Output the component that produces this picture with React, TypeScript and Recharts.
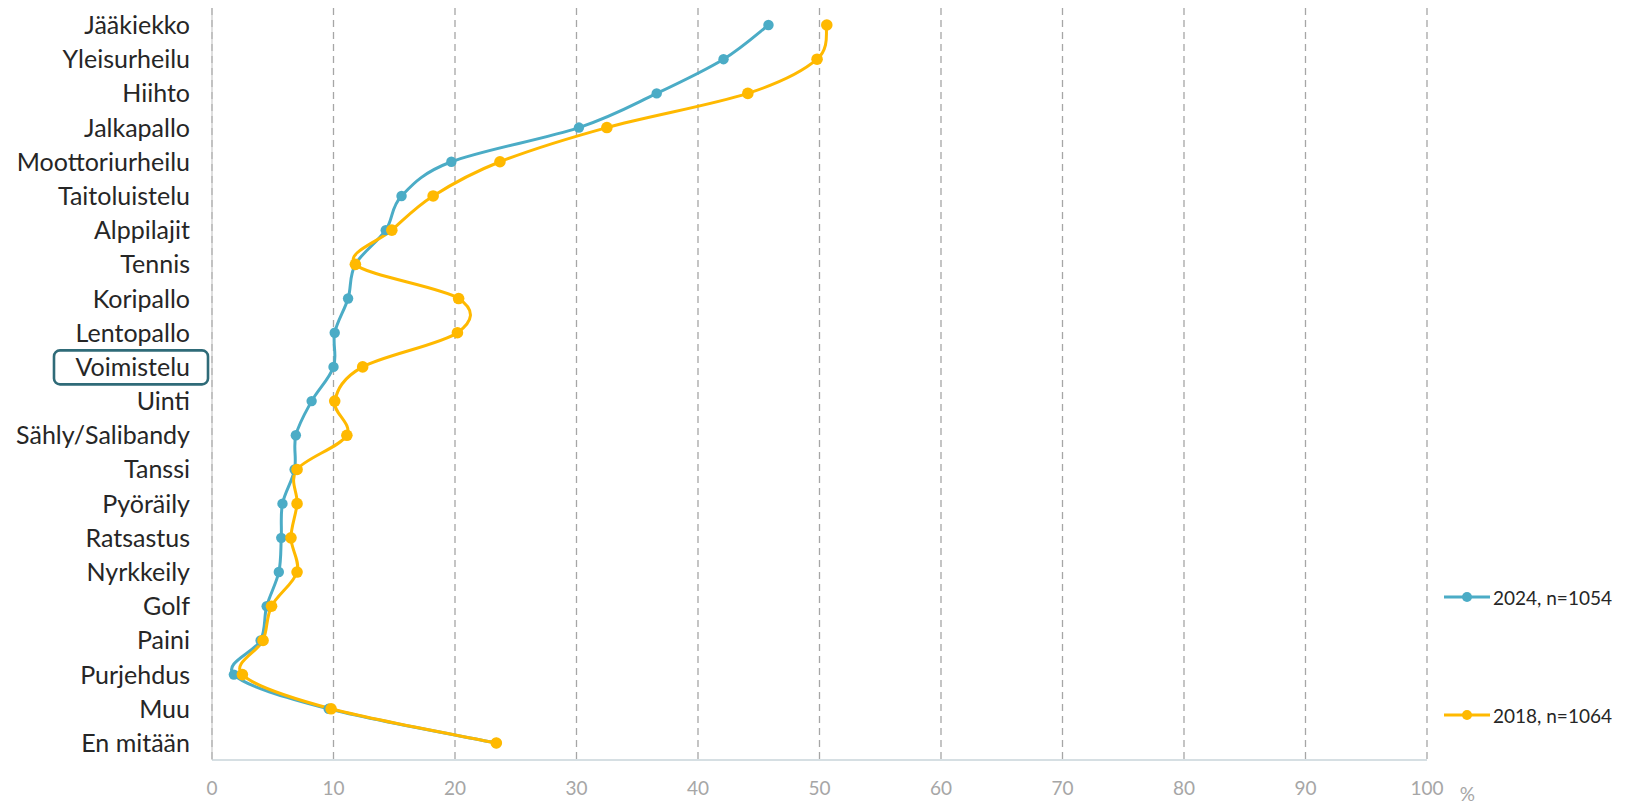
import { LineChart, Line, XAxis, YAxis, CartesianGrid, Legend } from "recharts"

const categories = [
  "Jääkiekko",
  "Yleisurheilu",
  "Hiihto",
  "Jalkapallo",
  "Moottoriurheilu",
  "Taitoluistelu",
  "Alppilajit",
  "Tennis",
  "Koripallo",
  "Lentopallo",
  "Voimistelu",
  "Uinti",
  "Sähly/Salibandy",
  "Tanssi",
  "Pyöräily",
  "Ratsastus",
  "Nyrkkeily",
  "Golf",
  "Paini",
  "Purjehdus",
  "Muu",
  "En mitään",
]

const values2024 = [
  45.8, 42.1, 36.6, 30.2, 19.7, 15.6, 14.3, 11.8, 11.2, 10.1, 10.0, 8.2, 6.9, 6.8, 5.8, 5.7, 5.5, 4.5, 4.0,
  1.8, 9.6, 23.4,
]

const values2018 = [
  50.6, 49.8, 44.1, 32.5, 23.7, 18.2, 14.8, 11.8, 20.3, 20.2, 12.4, 10.1, 11.1, 7.0, 7.0, 6.5, 7.0, 4.9, 4.2,
  2.5, 9.8, 23.4,
]

const xTicks = [0, 10, 20, 30, 40, 50, 60, 70, 80, 90, 100]

const seriesInfo = [
  { key: "y2024", label: "2024, n=1054", color: "#4BACC6" },
  { key: "y2018", label: "2018, n=1064", color: "#FFB900" },
]

const highlighted = "Voimistelu"

const data = categories.map((name, i) => ({
  name,
  y2024: values2024[i],
  y2018: values2018[i],
}))

const FONT = "Lato, 'Open Sans', sans-serif"

// Excel-style smoothed line (Catmull-Rom through the points)
const smoothCurve = (context: any) => {
  let pts: number[][] = []
  return {
    areaStart() {},
    areaEnd() {},
    lineStart() {
      pts = []
    },
    lineEnd() {
      if (!pts.length) return
      context.moveTo(pts[0][0], pts[0][1])
      for (let i = 0; i < pts.length - 1; i++) {
        const p0 = pts[i - 1] || pts[i]
        const p1 = pts[i]
        const p2 = pts[i + 1]
        const p3 = pts[i + 2] || p2
        context.bezierCurveTo(
          p1[0] + (p2[0] - p0[0]) / 6,
          p1[1] + (p2[1] - p0[1]) / 6,
          p2[0] - (p3[0] - p1[0]) / 6,
          p2[1] - (p3[1] - p1[1]) / 6,
          p2[0],
          p2[1]
        )
      }
    },
    point(x: number, y: number) {
      pts.push([+x, +y])
    },
  }
}

const CategoryTick = (props: any) => {
  const { x, y, payload } = props
  const isHi = payload.value === highlighted
  return (
    <g>
      {isHi && (
        <rect
          x={x - 136}
          y={y - 16.5}
          width={154}
          height={34}
          rx={6}
          ry={6}
          fill="none"
          stroke="#2F6B78"
          strokeWidth={2.6}
        />
      )}
      <text
        x={x}
        y={y}
        dy="0.36em"
        textAnchor="end"
        fill="#262626"
        fontSize={25}
        fontFamily={FONT}
      >
        {payload.value}
      </text>
    </g>
  )
}

const renderLegend = () => (
  <div style={{ fontFamily: FONT, fontSize: 19, color: "#262626" }}>
    {seriesInfo.map((s, i) => (
      <div
        key={s.key}
        style={{
          display: "flex",
          alignItems: "center",
          height: 26,
          marginBottom: i === 0 ? 92 : 0,
        }}
      >
        <svg width={46} height={12} style={{ marginRight: 3 }}>
          <line x1={0} y1={6} x2={46} y2={6} stroke={s.color} strokeWidth={3} />
          <circle cx={23} cy={6} r={5} fill={s.color} />
        </svg>
        <span>{s.label}</span>
      </div>
    ))}
  </div>
)

export default function App() {
  return (
    <div style={{ width: 1627, height: 794 }}>
      <LineChart
        width={1627}
        height={808}
        data={data}
        layout="vertical"
        margin={{ top: 0, right: 208, bottom: 0, left: 0 }}
      >
        <CartesianGrid horizontal={false} stroke="#A6A6A6" strokeDasharray="7 5" strokeWidth={1.3} />
        <XAxis
          type="number"
          domain={[0, 100]}
          ticks={xTicks}
          interval={0}
          height={56}
          tickSize={0}
          tickMargin={22}
          axisLine={{ stroke: "#C8D4DA", strokeWidth: 1.5 }}
          tickLine={false}
          tick={{ fill: "#A6A6A6", fontSize: 19, fontFamily: FONT }}
          label={{
            value: "%",
            position: "insideTopRight",
            offset: 0,
            dx: 48,
            dy: 28,
            fill: "#A6A6A6",
            fontSize: 19,
            fontFamily: FONT,
          }}
        />
        <YAxis
          type="category"
          dataKey="name"
          width={204}
          interval={0}
          padding={{ top: 17, bottom: 17 }}
          tickSize={0}
          tickMargin={22}
          tickLine={false}
          axisLine={{ stroke: "#BFBFBF", strokeWidth: 1 }}
          tick={<CategoryTick />}
        />
        <Legend
          layout="horizontal"
          align="center"
          verticalAlign="middle"
          content={renderLegend}
          wrapperStyle={{ left: 1436, top: 576, width: 190, right: "auto", bottom: "auto" }}
        />
        {seriesInfo.map((s) => (
          <Line
            key={s.key}
            dataKey={s.key}
            name={s.label}
            type={smoothCurve as any}
            stroke={s.color}
            strokeWidth={3}
            dot={{ r: s.key === "y2018" ? 5.8 : 5.2, fill: s.color, stroke: "none" }}
            activeDot={false}
            isAnimationActive={false}
          />
        ))}
      </LineChart>
    </div>
  )
}
